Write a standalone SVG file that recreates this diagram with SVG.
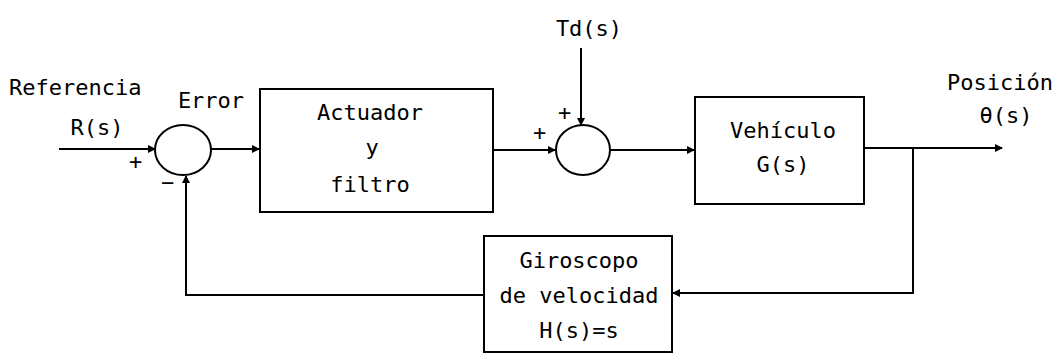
<svg xmlns="http://www.w3.org/2000/svg" width="1055" height="356" viewBox="0 0 1055 356">
<style>
.t{font-family:"DejaVu Sans Mono","Liberation Mono",monospace;font-size:22px;fill:#000}
.m{text-anchor:middle}
.b{fill:#fff;stroke:#000;stroke-width:2}
.l{fill:none;stroke:#000;stroke-width:2}
</style>
<defs>
<marker id="a" markerWidth="8" markerHeight="8" refX="7" refY="4" orient="auto" markerUnits="userSpaceOnUse">
<path d="M0,0 L8,4 L0,8 Z" fill="#000"/>
</marker>
</defs>
<rect width="1055" height="356" fill="#fff"/>
<g id="connectors">
<line class="l" x1="59" y1="149" x2="155" y2="149" marker-end="url(#a)"/>
<line class="l" x1="211" y1="149" x2="259" y2="149" marker-end="url(#a)"/>
<line class="l" x1="493" y1="150" x2="555" y2="150" marker-end="url(#a)"/>
<line class="l" x1="581" y1="48" x2="581" y2="125" marker-end="url(#a)"/>
<line class="l" x1="611" y1="150" x2="694" y2="150" marker-end="url(#a)"/>
<line class="l" x1="864" y1="148" x2="1002" y2="148" marker-end="url(#a)"/>
<polyline class="l" points="913,148 913,293 673,293" marker-end="url(#a)"/>
<polyline class="l" points="484,295 186,295 186,176" marker-end="url(#a)"/>
</g>
<g id="sum1">
<ellipse class="b" cx="183" cy="150" rx="28" ry="25"/>
<text class="t" x="129" y="169">+</text>
<text class="t" x="161" y="190">−</text>
</g>
<g id="sum2">
<ellipse class="b" cx="583" cy="150" rx="27" ry="25"/>
<text class="t" x="558" y="120">+</text>
<text class="t" x="533" y="140">+</text>
</g>
<g id="labels">
<text class="t" x="9" y="95">Referencia</text>
<text class="t m" x="97" y="135">R(s)</text>
<text class="t m" x="211" y="108">Error</text>
<text class="t m" x="589" y="36">Td(s)</text>
<text class="t m" x="1000" y="90">Posición</text>
<text class="t m" x="1006" y="123">θ(s)</text>
</g>
<g id="actuador">
<rect class="b" x="260" y="89" width="233" height="123"/>
<text class="t m" x="370" y="120">Actuador</text>
<text class="t m" x="372" y="155">y</text>
<text class="t m" x="370" y="192">filtro</text>
</g>
<g id="vehiculo">
<rect class="b" x="695" y="97" width="169" height="107"/>
<text class="t m" x="783" y="138">Vehículo</text>
<text class="t m" x="783" y="172">G(s)</text>
</g>
<g id="giroscopo">
<rect class="b" x="484" y="236" width="188" height="116"/>
<text class="t m" x="579" y="268">Giroscopo</text>
<text class="t m" x="579" y="303">de velocidad</text>
<text class="t m" x="579" y="338">H(s)=s</text>
</g>
</svg>
